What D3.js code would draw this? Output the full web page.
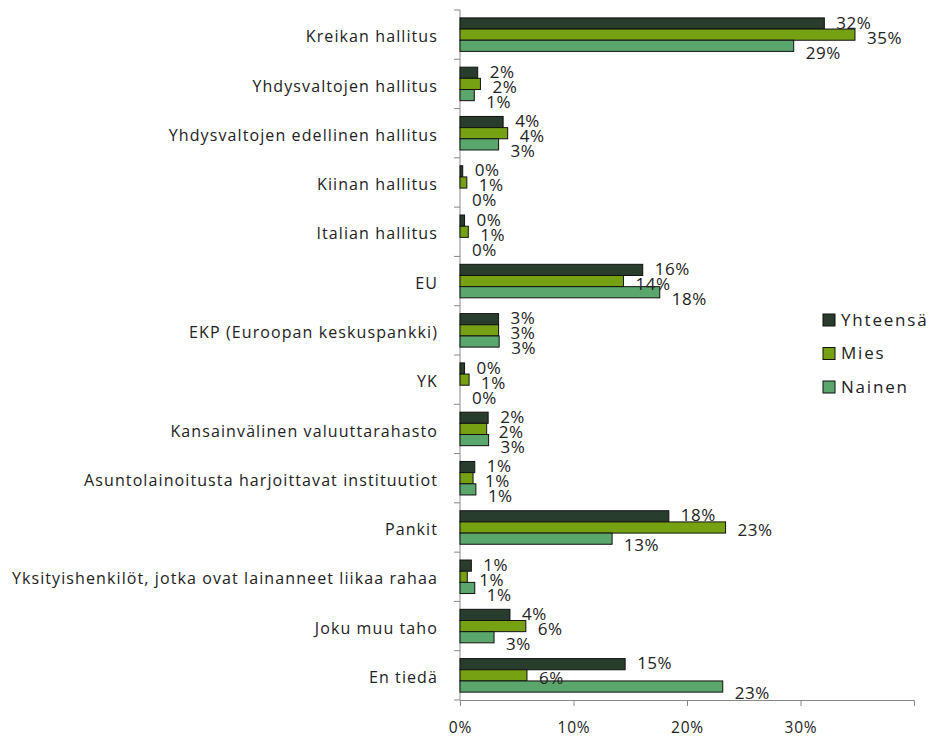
<!DOCTYPE html>
<html>
<head>
<meta charset="utf-8">
<script src="https://cdn.jsdelivr.net/npm/d3@7"></script>
<style>
  body { margin: 0; background: #fff; }
  text { font-family: "Open Sans", sans-serif; fill: #222; }
</style>
</head>
<body>
<svg width="933" height="740"></svg>
<script>
const categories = [
  "Kreikan hallitus",
  "Yhdysvaltojen hallitus",
  "Yhdysvaltojen edellinen hallitus",
  "Kiinan hallitus",
  "Italian hallitus",
  "EU",
  "EKP (Euroopan keskuspankki)",
  "YK",
  "Kansainvälinen valuuttarahasto",
  "Asuntolainoitusta harjoittavat instituutiot",
  "Pankit",
  "Yksityishenkilöt, jotka ovat lainanneet liikaa rahaa",
  "Joku muu taho",
  "En tiedä"
];
const seriesNames = ["Yhteensä", "Mies", "Nainen"];
const yhteensa = [0.321, 0.0156, 0.038, 0.0024, 0.004, 0.161, 0.034, 0.004, 0.0248, 0.013, 0.184, 0.010, 0.044, 0.1455];
const mies     = [0.348, 0.018, 0.042, 0.006, 0.0073, 0.144, 0.034, 0.008, 0.0235, 0.0115, 0.234, 0.0064, 0.058, 0.059];
const nainen   = [0.294, 0.0126, 0.034, 0, 0, 0.176, 0.0345, 0, 0.0252, 0.014, 0.134, 0.013, 0.030, 0.2315];
const xTicks = [0, 0.1, 0.2, 0.3];
const colors = ["#283d2e", "#76a113", "#5ba66d"];

const margin = { top: 10, right: 19, bottom: 40, left: 460 };
const width = 933 - margin.left - margin.right;
const height = 740 - margin.top - margin.bottom;

const svg = d3.select("svg")
  .append("g")
  .attr("transform", `translate(${margin.left},${margin.top})`);

const values = [yhteensa, mies, nainen];
const rows = categories.map((c, i) => ({ cat: c, vals: values.map(v => v[i]) }));

const x = d3.scaleLinear().domain([0, 0.4]).range([0, width]);
const y = d3.scaleBand().domain(categories).range([0, height]);
const inner = d3.scaleBand().domain(seriesNames)
  .range([y.bandwidth() * 0.16, y.bandwidth() * 0.84]);

// y axis: ticks on category boundaries
svg.append("line")
  .attr("x1", 0).attr("x2", 0).attr("y1", 0).attr("y2", height)
  .attr("stroke", "#888");
svg.selectAll(".ytick")
  .data(d3.range(categories.length + 1))
  .enter().append("line")
  .attr("x1", -6).attr("x2", 0)
  .attr("y1", i => i * y.step()).attr("y2", i => i * y.step())
  .attr("stroke", "#888");
svg.selectAll(".ylab")
  .data(categories)
  .enter().append("text")
  .attr("x", -22)
  .attr("y", d => y(d) + y.bandwidth() / 2 + 2)
  .attr("dy", "0.35em")
  .attr("text-anchor", "end")
  .style("font-size", "16px")
  .style("letter-spacing", "1.1px")
  .text(d => d);

// x axis
const xAxis = svg.append("g")
  .attr("transform", `translate(0,${height})`)
  .call(d3.axisBottom(x).tickValues(xTicks).tickFormat(d3.format(".0%")).tickSize(6).tickPadding(16));
xAxis.select(".domain").attr("stroke", "#888");
xAxis.selectAll(".tick line").attr("stroke", "#888");
xAxis.selectAll("text").style("font-size", "15.5px").style("letter-spacing", "0.8px")
  .style("font-family", "Open Sans, sans-serif").attr("fill", "#222");

// bars
const groups = svg.selectAll(".grp")
  .data(rows)
  .enter().append("g")
  .attr("transform", d => `translate(0,${y(d.cat)})`);

groups.selectAll("rect")
  .data(d => d.vals.map((v, j) => ({ s: seriesNames[j], v: v, j: j })))
  .enter().append("rect")
  .attr("x", 0)
  .attr("y", d => inner(d.s))
  .attr("width", d => x(d.v))
  .attr("height", inner.bandwidth())
  .attr("fill", d => colors[d.j])
  .attr("stroke", "#111")
  .attr("stroke-width", d => d.v > 0 ? 1 : 0);

// value labels
const labelOffsets = [-12, 3, 18];
groups.selectAll(".val")
  .data(d => d.vals.map((v, j) => ({ v: v, j: j })))
  .enter().append("text")
  .attr("x", d => x(d.v) + 12)
  .attr("y", d => y.bandwidth() / 2 + labelOffsets[d.j])
  .attr("dy", "0.35em")
  .style("font-size", "17px")
  .style("letter-spacing", "0.5px")
  .text(d => d3.format(".0%")(d.v));

// legend
const legend = svg.append("g").attr("transform", `translate(${823 - margin.left},${320 - margin.top})`);
seriesNames.forEach((s, i) => {
  const g = legend.append("g").attr("transform", `translate(0,${i * 33.5})`);
  g.append("rect").attr("x", 0).attr("y", -6).attr("width", 12).attr("height", 12)
    .attr("fill", colors[i]).attr("stroke", "#111");
  g.append("text").attr("x", 18).attr("dy", "0.35em")
    .style("font-size", "17px").style("letter-spacing", "1.8px").text(s);
});
</script>
</body>
</html>
